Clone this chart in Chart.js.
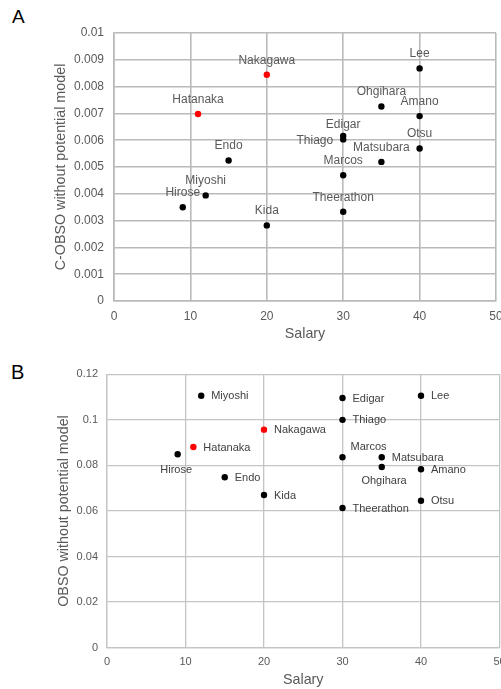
<!DOCTYPE html>
<html>
<head>
<meta charset="utf-8">
<script src="https://cdn.jsdelivr.net/npm/chart.js@4"></script>
<style>
  html, body { margin: 0; padding: 0; background: #fff; overflow: hidden; }
  body { width: 501px; height: 689px; position: relative; }
  canvas { position: absolute; display: block; }
  #chartA { left: 0; top: 0; }
  #chartB { left: 0; top: 340px; }
  .panel { position: absolute; font-family: "Liberation Sans", Arial, sans-serif; color: #000; line-height: 1; }
  #panelA { left: 12px; top: 7px; font-size: 19px; }
  #panelB { left: 11px; top: 362px; font-size: 20px; }
</style>
</head>
<body>
<div class="panel" id="panelA">A</div>
<div class="panel" id="panelB">B</div>
<canvas id="chartA" width="520" height="345"></canvas>
<canvas id="chartB" width="525" height="349"></canvas>
<script>
// players and their values
const players = ['Hatanaka', 'Nakagawa', 'Miyoshi', 'Hirose', 'Endo', 'Kida', 'Edigar', 'Thiago',
  'Marcos', 'Theerathon', 'Ohgihara', 'Matsubara', 'Lee', 'Amano', 'Otsu'];
const salary = [11, 20, 12, 9, 15, 20, 30, 30, 30, 30, 35, 35, 40, 40, 40];
const cobso = [0.00698, 0.00844, 0.00394, 0.00350, 0.00524, 0.00282, 0.00616, 0.00603,
  0.00469, 0.00333, 0.00726, 0.00519, 0.00868, 0.00690, 0.00569];
const obso = [0.0881, 0.0957, 0.1106, 0.0849, 0.0748, 0.0670, 0.1096, 0.1000,
  0.0836, 0.0613, 0.0793, 0.0836, 0.1106, 0.0783, 0.0645];
const highlighted = ['Hatanaka', 'Nakagawa'];

const xTickLabels = ['0', '10', '20', '30', '40', '50'];
const yTickLabelsA = ['0', '0.001', '0.002', '0.003', '0.004', '0.005', '0.006', '0.007', '0.008', '0.009', '0.01'];
const yTickLabelsB = ['0', '0.02', '0.04', '0.06', '0.08', '0.1', '0.12'];

const FONT = '"Liberation Sans", Arial, sans-serif';
const TICK = '#595959';

// draws the player name next to each point
const pointLabels = {
  id: 'pointLabels',
  afterDatasetsDraw(chart, args, opts) {
    const ctx = chart.ctx;
    const meta = chart.getDatasetMeta(0);
    ctx.save();
    ctx.font = opts.size + 'px ' + FONT;
    ctx.fillStyle = opts.color;
    ctx.textBaseline = 'middle';
    meta.data.forEach((pt, i) => {
      const name = players[i];
      const p = opts.place[name] || opts.place.default;
      ctx.textAlign = p[0];
      ctx.fillText(name, pt.x + p[1], pt.y + p[2]);
    });
    ctx.restore();
  }
};

function pointColors() {
  return players.map(n => highlighted.includes(n) ? '#ff0000' : '#000000');
}

function makeChart(id, yValues, cfg) {
  const points = salary.map((s, i) => ({ x: s, y: yValues[i] }));
  return new Chart(document.getElementById(id), {
    type: 'scatter',
    data: {
      datasets: [{
        data: points,
        backgroundColor: pointColors(),
        borderWidth: 0,
        pointRadius: 3.2,
        pointHoverRadius: 3.2
      }]
    },
    options: {
      responsive: false,
      animation: false,
      events: [],
      layout: { padding: cfg.padding },
      plugins: {
        legend: { display: false },
        tooltip: { enabled: false },
        pointLabels: cfg.labels
      },
      scales: {
        x: {
          type: 'linear',
          min: 0,
          max: 50,
          ticks: {
            stepSize: 10,
            padding: cfg.xTickPad,
            color: TICK,
            font: { family: FONT, size: cfg.tickSize },
            callback: (v, i) => xTickLabels[i]
          },
          grid: { color: cfg.grid, lineWidth: cfg.gridWidth, drawTicks: false },
          border: { color: cfg.grid, width: cfg.gridWidth },
          title: {
            display: true,
            text: 'Salary',
            color: TICK,
            font: { family: FONT, size: 14.3 },
            padding: { top: 0, bottom: cfg.xTitlePad }
          },
          afterFit: s => { s.height = cfg.xHeight; }
        },
        y: {
          type: 'linear',
          min: 0,
          max: cfg.yMax,
          ticks: {
            stepSize: cfg.yStep,
            padding: cfg.yTickPad,
            color: TICK,
            font: { family: FONT, size: cfg.tickSize },
            callback: (v, i) => cfg.yTicks[i]
          },
          grid: { color: cfg.grid, lineWidth: cfg.gridWidth, drawTicks: false },
          border: { color: cfg.grid, width: cfg.gridWidth },
          title: {
            display: true,
            text: cfg.yTitle,
            color: TICK,
            font: { family: FONT, size: 14.3 },
            padding: { top: cfg.yTitlePad, bottom: 0 }
          },
          afterFit: s => { s.width = cfg.yWidth; }
        }
      }
    },
    plugins: [pointLabels]
  });
}

makeChart('chartA', cobso, {
  padding: { left: 45, top: 33, right: 24, bottom: 0 },
  yMax: 0.01,
  yStep: 0.001,
  yTicks: yTickLabelsA,
  yTitle: 'C-OBSO without potential model',
  tickSize: 12,
  grid: '#bababa',
  gridWidth: 1.6,
  xTickPad: 8,
  yTickPad: 10,
  xHeight: 44,
  yWidth: 69,
  xTitlePad: 2,
  yTitlePad: 7.4,
  labels: {
    size: 12,
    color: '#595959',
    place: {
      default: ['center', 0, -14.5],
      Edigar: ['center', 0, -11.5],
      Thiago: ['right', -10, 1]
    }
  }
});

makeChart('chartB', obso, {
  padding: { left: 48, top: 34.3, right: 25.5, bottom: 0 },
  yMax: 0.12,
  yStep: 0.02,
  yTicks: yTickLabelsB,
  yTitle: 'OBSO without potential model',
  tickSize: 11,
  grid: '#c4c4c4',
  gridWidth: 1.3,
  xTickPad: 8,
  yTickPad: 9,
  xHeight: 41.3,
  yWidth: 59,
  xTitlePad: 0.5,
  yTitlePad: 7.7,
  labels: {
    size: 11,
    color: '#404040',
    place: {
      default: ['left', 10, 0.5],
      Hirose: ['center', -1.5, 16],
      Marcos: ['center', 26, -10.7],
      Ohgihara: ['center', 2.3, 13.7]
    }
  }
});
</script>
</body>
</html>
